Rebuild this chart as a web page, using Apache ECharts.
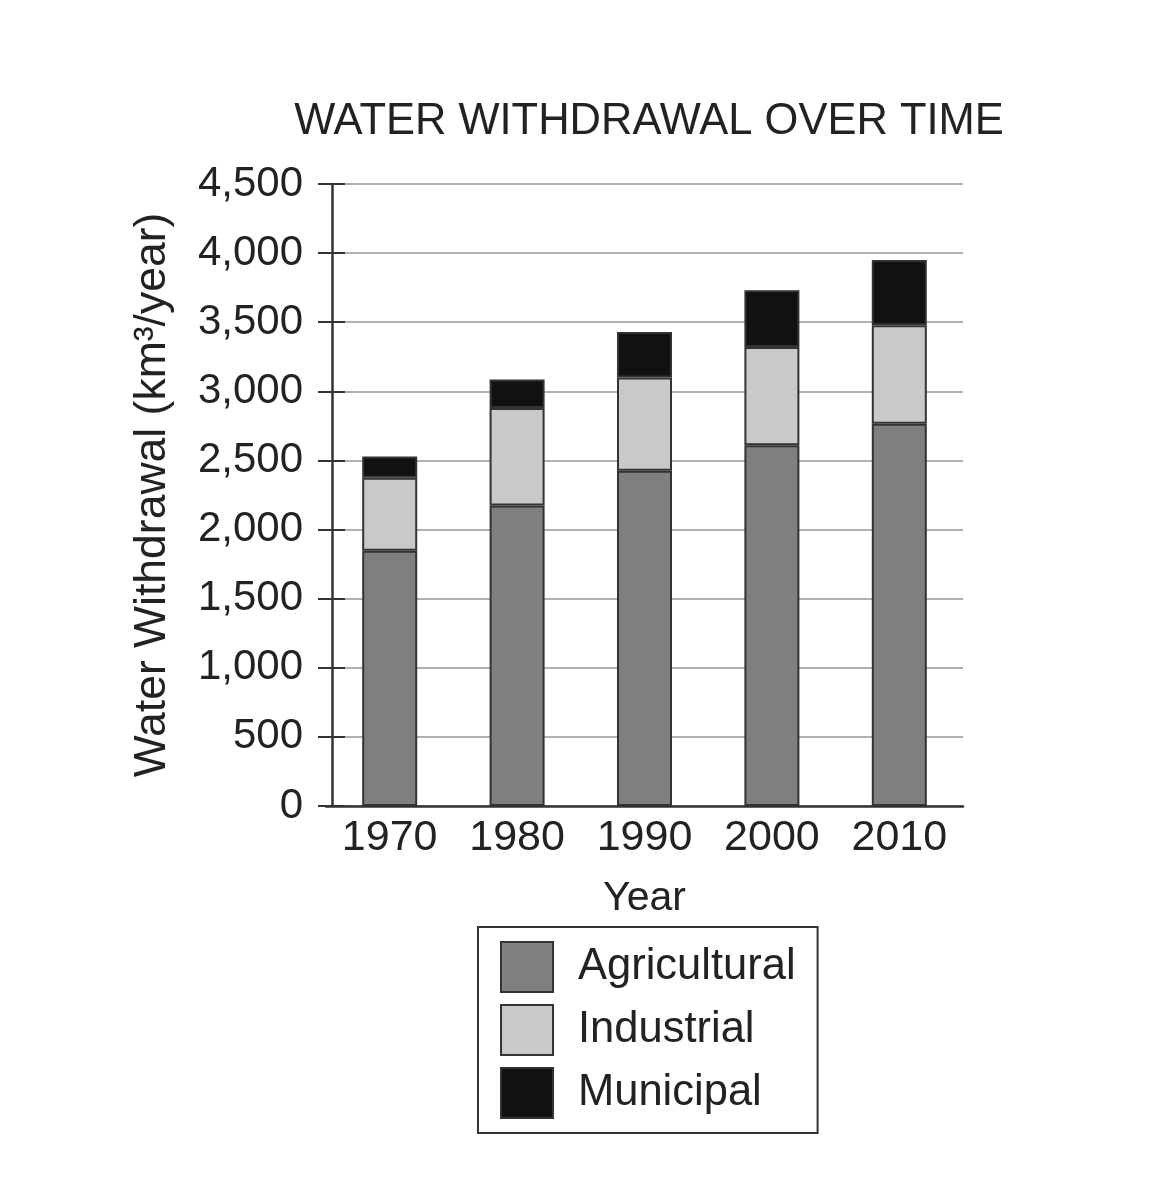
<!DOCTYPE html>
<html>
<head>
<meta charset="utf-8">
<script src="https://cdn.jsdelivr.net/npm/echarts@6/dist/echarts.min.js"></script>
<style>
html,body{margin:0;padding:0;background:#fff;}
#chart{width:1168px;height:1200px;}
</style>
</head>
<body>
<div id="chart"></div>
<script>
const years = ['1970', '1980', '1990', '2000', '2010'];
const agricultural = [1846, 2174, 2426, 2610, 2766];
const industrial = [529, 705, 674, 711, 712];
const municipal = [154, 206, 329, 411, 472];
const seriesNames = ['Agricultural', 'Industrial', 'Municipal'];
const seriesColors = ['#7f7f7f', '#c9c9c9', '#111111'];

const FONT = '"Liberation Sans", Arial, Helvetica, sans-serif';
const chart = echarts.init(document.getElementById('chart'), null, {renderer: 'canvas'});

const valueMax = 4500, valueStep = 500;

function barSeries(name, data, color) {
  return {
    name: name,
    type: 'bar',
    stack: 'total',
    data: data,
    barWidth: 55,
    itemStyle: {color: color, borderColor: '#333', borderWidth: 2},
    emphasis: {disabled: true}
  };
}

chart.setOption({
  animation: false,
  backgroundColor: '#fff',
  textStyle: {fontFamily: FONT, color: '#222'},
  title: {
    text: 'WATER WITHDRAWAL OVER TIME',
    left: 644,
    textAlign: 'center',
    top: 95,
    textStyle: {fontFamily: FONT, fontSize: 43.5, fontWeight: 'normal', color: '#222'}
  },
  grid: {left: 326, top: 184, width: 637, height: 622, containLabel: false},
  legend: {
    orient: 'vertical',
    left: 478,
    top: 927,
    data: seriesNames,
    itemWidth: 52,
    itemHeight: 50,
    itemGap: 11,
    padding: [14, 22, 14, 22],
    borderColor: '#333',
    borderWidth: 2,
    icon: 'rect',
    selectedMode: false,
    textStyle: {fontFamily: FONT, fontSize: 43.5, color: '#222', padding: [0, 0, 0, 20]}
  },
  xAxis: {
    type: 'category',
    data: years,
    name: 'Year',
    nameLocation: 'middle',
    nameGap: 72,
    nameTextStyle: {fontFamily: FONT, fontSize: 41, color: '#222'},
    axisLine: {lineStyle: {color: '#333', width: 2.5}},
    axisTick: {show: false},
    axisLabel: {fontFamily: FONT, fontSize: 43, color: '#222', margin: 11}
  },
  yAxis: [{
    type: 'value',
    min: 0,
    max: valueMax,
    interval: valueStep,
    offset: -6,
    name: 'Water Withdrawal (km³/year)',
    nameLocation: 'middle',
    nameGap: 157,
    nameTextStyle: {fontFamily: FONT, fontSize: 44.5, color: '#222'},
    axisLine: {show: true, lineStyle: {color: '#333', width: 2.5}},
    axisTick: {show: true, inside: false, length: 14, lineStyle: {color: '#333', width: 2}},
    axisLabel: {
      fontFamily: FONT, fontSize: 42, color: '#222', margin: 29,
      formatter: v => v.toLocaleString('en-US')
    },
    splitLine: {show: true, lineStyle: {color: '#b0b0b0', width: 2}}
  }, {
    type: 'value',
    min: 0,
    max: valueMax,
    interval: valueStep,
    position: 'left',
    offset: -6,
    axisLine: {show: false},
    axisTick: {show: true, inside: true, length: 13, lineStyle: {color: '#333', width: 2}},
    axisLabel: {show: false},
    splitLine: {show: false}
  }],
  series: [
    barSeries(seriesNames[0], agricultural, seriesColors[0]),
    barSeries(seriesNames[1], industrial, seriesColors[1]),
    barSeries(seriesNames[2], municipal, seriesColors[2])
  ]
});
</script>
</body>
</html>
